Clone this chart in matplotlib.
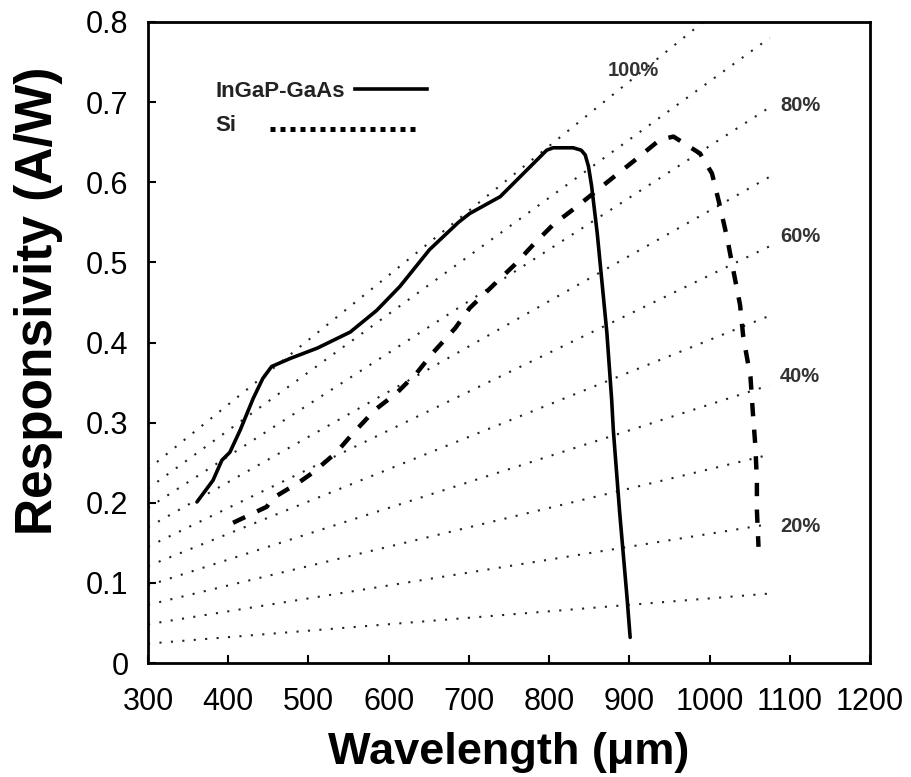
import numpy as np
import matplotlib
matplotlib.use("Agg")
import matplotlib.pyplot as plt

# InGaP-GaAs photodiode responsivity (A/W) vs wavelength (nm)
ingap_wl = [361, 381, 392, 402, 415, 431, 443, 454, 477, 511, 552, 585, 614,
            651, 687, 701, 739, 760, 789, 797, 805, 830, 840, 845, 849, 853,
            860, 866, 872, 878, 880, 888, 897, 901]
ingap_r = [0.201, 0.228, 0.253, 0.263, 0.291, 0.330, 0.355, 0.370, 0.380,
           0.393, 0.413, 0.440, 0.470, 0.516, 0.550, 0.561, 0.582, 0.603,
           0.632, 0.640, 0.643, 0.643, 0.640, 0.634, 0.620, 0.595,
           0.536, 0.474, 0.412, 0.328, 0.291, 0.187, 0.083, 0.032]

# Si photodiode
si_wl = [406, 448, 456, 489, 506, 535, 554, 583, 610, 635, 655, 683, 701,
         733, 757, 782, 805, 835, 886, 905, 938, 955, 988, 1003, 1013, 1022,
         1030, 1038, 1042, 1051, 1054, 1057, 1059, 1059, 1061]
si_r = [0.175, 0.195, 0.206, 0.226, 0.238, 0.263, 0.285, 0.316, 0.337, 0.362,
        0.387, 0.418, 0.443, 0.474, 0.497, 0.524, 0.547, 0.570, 0.611, 0.626,
        0.653, 0.657, 0.636, 0.611, 0.570, 0.530, 0.488, 0.447, 0.407, 0.357,
        0.312, 0.272, 0.228, 0.191, 0.145]

# quantum efficiency reference lines, R = QE * lambda / 1240
qe_levels = [0.1, 0.2, 0.3, 0.4, 0.5, 0.6, 0.7, 0.8, 0.9, 1.0]
qe_wl = [300, 1075]
qe_labels = ["100%", "80%", "60%", "40%", "20%"]
qe_label_pos = [(873, 0.740), (1088, 0.696), (1088, 0.532), (1088, 0.357), (1088, 0.170)]

sans = ["Liberation Sans", "DejaVu Sans"]

fig = plt.figure(figsize=(9.11, 7.77), dpi=100)
ax = fig.add_axes([0.1625, 0.1467, 0.7925, 0.825])

for qe in qe_levels:
    r = [qe * w / 1240 for w in qe_wl]
    ax.plot(qe_wl, r, color="#222222", lw=1.5, linestyle=(0, (1, 4.5)))

ax.plot(ingap_wl, ingap_r, color="black", lw=2.6, solid_capstyle="round",
        solid_joinstyle="round")
ax.plot(si_wl, si_r, color="black", lw=3.2, linestyle=(0, (3, 3)))

for lab, (x, y) in zip(qe_labels, qe_label_pos):
    ax.text(x, y, lab, fontsize=14.5, fontweight="bold", family=sans,
            color="#333333", ha="left", va="center")

# hand-made legend
ax.text(0.093, 0.891, "InGaP-GaAs", transform=ax.transAxes, fontsize=16,
        fontweight="bold", family=sans, color="#222222", va="center")
ax.plot([0.287, 0.387], [0.8955, 0.8955], transform=ax.transAxes,
        color="black", lw=2.6)
ax.text(0.093, 0.839, "Si", transform=ax.transAxes, fontsize=16,
        fontweight="bold", family=sans, color="#222222", va="center")
ax.plot([0.169, 0.372], [0.833, 0.833], transform=ax.transAxes,
        color="black", lw=3.6, linestyle=(0, (1, 1)))

ax.set_xlim(300, 1200)
ax.set_ylim(0, 0.8)
ax.set_xticks(np.arange(300, 1201, 100))
ax.set_yticks(np.arange(0, 0.81, 0.1))
ax.set_yticklabels(["0"] + ["%.1f" % v for v in np.arange(0.1, 0.81, 0.1)])

for s in ax.spines.values():
    s.set_linewidth(2.0)
ax.tick_params(direction="in", length=6, width=1.5, labelsize=22,
               top=False, right=False)
ax.tick_params(axis="x", pad=17)
ax.tick_params(axis="y", pad=14)
for t in ax.get_xticklabels() + ax.get_yticklabels():
    t.set_family(sans)

ax.set_xlabel("Wavelength (\u03bcm)", fontsize=32.5, fontweight="bold", family=sans)
ax.set_ylabel("Responsivity (A/W)", fontsize=37, fontweight="bold", family=sans)
ax.xaxis.label.set_va("baseline")
ax.xaxis.set_label_coords(0.5, -0.158)
ax.yaxis.set_label_coords(-0.118, 0.565)

fig.savefig("out.png", dpi=100)
